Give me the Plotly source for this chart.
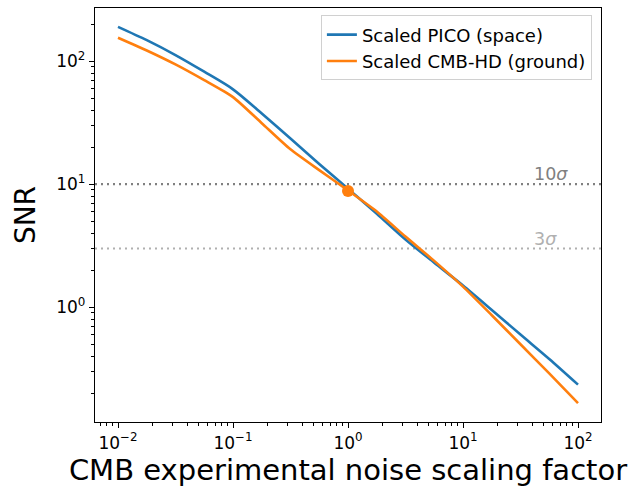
import numpy as np
import plotly.graph_objects as go

# ---- data ----
noise_scale = [0.01, 0.0178, 0.0316, 0.0562, 0.1, 0.178, 0.316, 0.562, 1.0,
               1.78, 3.16, 5.62, 10.0, 17.8, 31.6, 56.2, 100.0]
snr_pico = [190, 148, 112, 82, 59, 37.5, 23.5, 14.6, 9.2,
            5.75, 3.55, 2.3, 1.5, 0.95, 0.6, 0.38, 0.235]
snr_hd = [155, 122, 94, 70, 51, 31.3, 19.2, 13.0, 8.9,
          6.0, 3.75, 2.38, 1.47, 0.86, 0.5, 0.29, 0.166]
marker_x = [1.0]
marker_y = [8.8]
sigma_levels = [10, 3]
sigma_labels = ["10<i>σ</i>", "3<i>σ</i>"]
sigma_colors = ["#808080", "#b0b0b0"]
x_ticks = [0.01, 0.1, 1, 10, 100]
x_tick_text = ["10<sup>−2</sup>", "10<sup>−1</sup>", "10<sup>0</sup>", "10<sup>1</sup>", "10<sup>2</sup>"]
y_ticks = [1, 10, 100]
y_tick_text = ["10<sup>0</sup>", "10<sup>1</sup>", "10<sup>2</sup>"]

BLUE = "#1f77b4"
ORANGE = "#ff7f0e"
FONT = "DejaVu Sans"

fig = go.Figure()
fig.add_trace(go.Scatter(x=noise_scale, y=snr_pico, mode="lines", name="Scaled PICO (space)",
                         line=dict(color=BLUE, width=2.6, shape="spline", smoothing=0.8)))
fig.add_trace(go.Scatter(x=noise_scale, y=snr_hd, mode="lines", name="Scaled CMB-HD (ground)",
                         line=dict(color=ORANGE, width=2.6, shape="spline", smoothing=0.6)))
fig.add_trace(go.Scatter(x=marker_x, y=marker_y, mode="markers", showlegend=False,
                         marker=dict(color=ORANGE, size=12)))

for lvl, lab, col in zip(sigma_levels, sigma_labels, sigma_colors):
    fig.add_hline(y=lvl, line=dict(color=col, width=2.2, dash="2px,4px"), layer="below")
    fig.add_annotation(x=np.log10(40), y=np.log10(lvl), xref="x", yref="y", text=lab,
                       showarrow=False, xanchor="left", yanchor="bottom", yshift=-2,
                       font=dict(family=FONT, size=17.5, color=col))

# ranges like matplotlib's 5% margins in log space
lx = np.log10(noise_scale)
xr = [lx.min() - 0.05 * (lx.max() - lx.min()), lx.max() + 0.05 * (lx.max() - lx.min())]
ally = np.log10(snr_pico + snr_hd)
yr = [ally.min() - 0.05 * (ally.max() - ally.min()), ally.max() + 0.05 * (ally.max() - ally.min())]

def minor_vals(lo, hi):
    out = []
    for d in range(int(np.floor(lo)) - 1, int(np.ceil(hi)) + 1):
        for m in range(2, 10):
            v = m * 10.0 ** d
            if lo <= np.log10(v) <= hi:
                out.append(v)
    return out

axis_common = dict(type="log", showline=True, linecolor="black", linewidth=1.3, mirror=True,
                   ticks="outside", ticklen=5, tickwidth=1.1, tickcolor="black",
                   showgrid=False, zeroline=False,
                   tickfont=dict(family=FONT, size=17, color="black"))

fig.update_xaxes(**axis_common, range=xr, tickvals=x_ticks, ticktext=x_tick_text,
                 minor=dict(tickvals=minor_vals(*xr), ticks="outside", ticklen=3, tickwidth=0.9,
                            tickcolor="black", showgrid=False),
                 title=dict(text="CMB experimental noise scaling factor",
                            font=dict(family=FONT, size=29, color="black"), standoff=6))
fig.update_yaxes(**axis_common, range=yr, tickvals=y_ticks, ticktext=y_tick_text,
                 minor=dict(tickvals=minor_vals(*yr), ticks="outside", ticklen=3, tickwidth=0.9,
                            tickcolor="black", showgrid=False),
                 title=dict(text="SNR", font=dict(family=FONT, size=28, color="black"), standoff=12))

fig.update_layout(
    width=639, height=487,
    margin=dict(l=95, r=38, t=8, b=65),
    paper_bgcolor="white", plot_bgcolor="white",
    font=dict(family=FONT, color="black"),
    legend=dict(x=0.982, y=0.982, xanchor="right", yanchor="top",
                bgcolor="rgba(255,255,255,0.8)", bordercolor="#d0d0d0", borderwidth=1,
                font=dict(family=FONT, size=18, color="black"), tracegroupgap=0),
)

fig.write_html("out.html")
